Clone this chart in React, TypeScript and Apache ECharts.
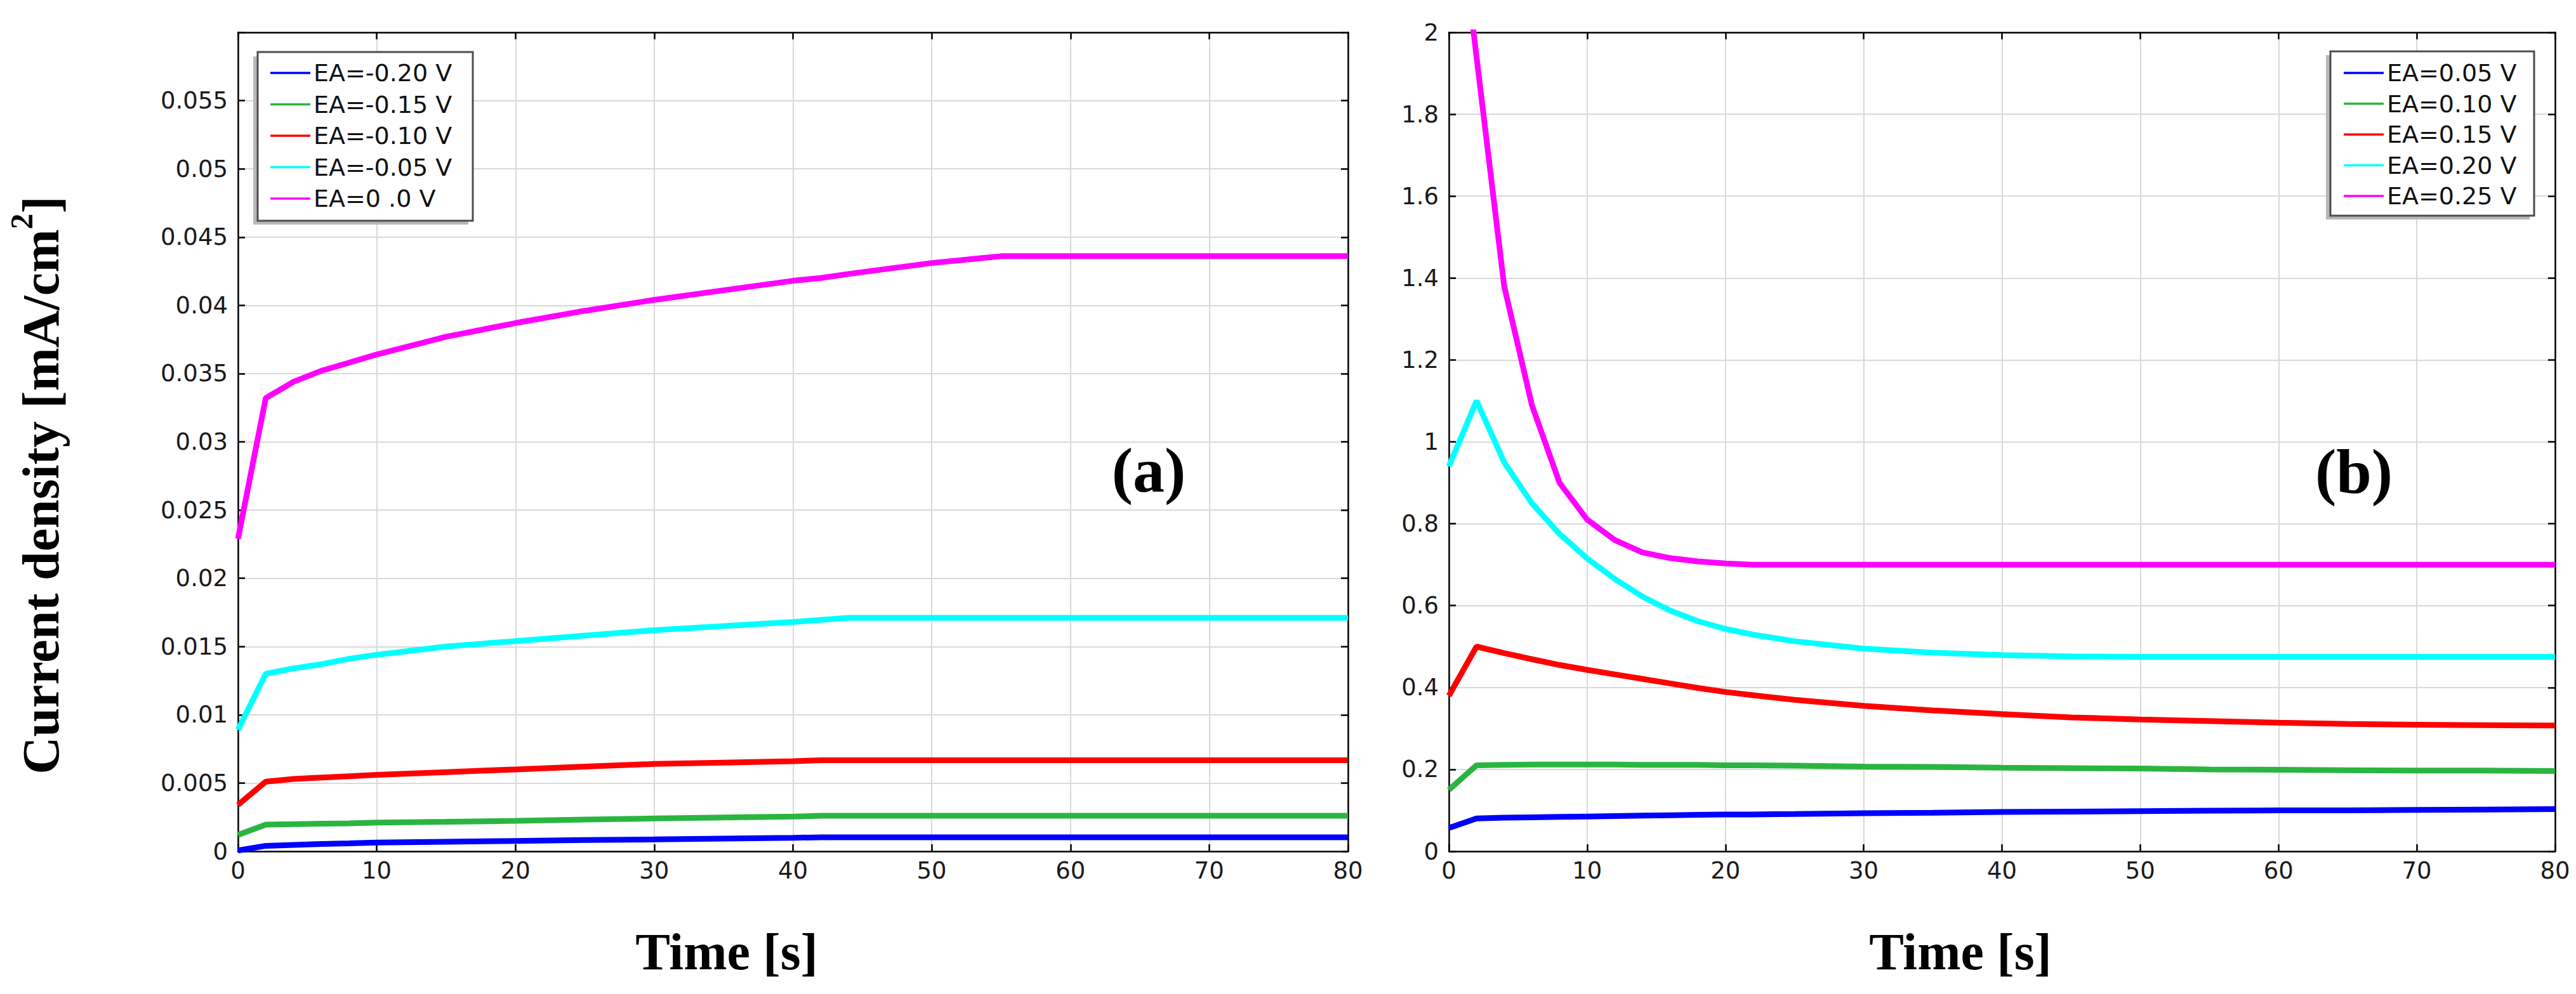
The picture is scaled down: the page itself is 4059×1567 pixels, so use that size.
import React, { useEffect, useRef } from "react";
import * as echarts from "echarts";

// ---------- data: panel (a) ----------
const TIME_A = [0, 2, 4, 6, 8, 10, 15, 20, 25, 30, 35, 40, 42, 44, 50, 55, 60, 70, 80];
const A_M020 = [0.00006, 0.0004, 0.00047, 0.00053, 0.00058, 0.00064, 0.0007, 0.00076, 0.00082, 0.00087, 0.00093, 0.00099, 0.00102, 0.00102, 0.00102, 0.00102, 0.00102, 0.00102, 0.00102];
const A_M015 = [0.0012, 0.00195, 0.00199, 0.00202, 0.00205, 0.0021, 0.00216, 0.00223, 0.00232, 0.0024, 0.00247, 0.00254, 0.0026, 0.0026, 0.0026, 0.0026, 0.0026, 0.0026, 0.0026];
const A_M010 = [0.0034, 0.0051, 0.0053, 0.0054, 0.0055, 0.0056, 0.0058, 0.006, 0.0062, 0.0064, 0.0065, 0.0066, 0.00667, 0.00667, 0.00667, 0.00667, 0.00667, 0.00667, 0.00667];
const A_M005 = [0.0089, 0.013, 0.0134, 0.0137, 0.0141, 0.0144, 0.015, 0.0154, 0.0158, 0.0162, 0.0165, 0.0168, 0.01695, 0.0171, 0.0171, 0.0171, 0.0171, 0.0171, 0.0171];
const A_000 = [0.0229, 0.0332, 0.0344, 0.0352, 0.0358, 0.0364, 0.0377, 0.0387, 0.0396, 0.0404, 0.0411, 0.0418, 0.042, 0.0423, 0.0431, 0.0436, 0.0436, 0.0436, 0.0436];

// ---------- data: panel (b) ----------
const TIME_B = [0, 2, 4, 6, 8, 10, 12, 14, 16, 18, 20, 22, 25, 30, 35, 40, 45, 50, 55, 60, 65, 70, 75, 80];
const B_005 = [0.057, 0.08, 0.082, 0.083, 0.084, 0.085, 0.086, 0.087, 0.088, 0.089, 0.09, 0.09, 0.091, 0.093, 0.094, 0.096, 0.097, 0.098, 0.099, 0.1, 0.1, 0.101, 0.102, 0.103];
const B_010 = [0.15, 0.21, 0.211, 0.212, 0.212, 0.212, 0.212, 0.211, 0.211, 0.211, 0.21, 0.21, 0.209, 0.207, 0.206, 0.204, 0.203, 0.202, 0.2, 0.199, 0.198, 0.197, 0.197, 0.196];
const B_015 = [0.38, 0.5, 0.484, 0.469, 0.455, 0.443, 0.432, 0.421, 0.41, 0.399, 0.389, 0.381, 0.37, 0.355, 0.344, 0.335, 0.327, 0.322, 0.318, 0.314, 0.311, 0.309, 0.308, 0.307];
const B_020 = [0.94, 1.1, 0.95, 0.85, 0.775, 0.715, 0.665, 0.622, 0.588, 0.562, 0.543, 0.529, 0.513, 0.495, 0.485, 0.479, 0.476, 0.475, 0.475, 0.475, 0.475, 0.475, 0.475, 0.475];
const B_025 = [2.5, 1.94, 1.38, 1.09, 0.9, 0.81, 0.76, 0.73, 0.716, 0.708, 0.703, 0.7, 0.7, 0.7, 0.7, 0.7, 0.7, 0.7, 0.7, 0.7, 0.7, 0.7, 0.7, 0.7];

const NAMES_A = ["EA=-0.20 V", "EA=-0.15 V", "EA=-0.10 V", "EA=-0.05 V", "EA=0 .0 V"];
const NAMES_B = ["EA=0.05 V", "EA=0.10 V", "EA=0.15 V", "EA=0.20 V", "EA=0.25 V"];
const VALUES_A = [A_M020, A_M015, A_M010, A_M005, A_000];
const VALUES_B = [B_005, B_010, B_015, B_020, B_025];
const COLORS = ["#0000ff", "#2ab540", "#ff0000", "#00ffff", "#ff00ff"];

// axis ranges / ticks
const X_MIN = 0;
const X_MAX = 80;
const X_STEP = 10;
const YA_MAX = 0.06;
const YA_STEP = 0.005;
const YB_MAX = 2;
const YB_STEP = 0.2;

const X_TITLE = "Time [s]";
const PANEL_A = "(a)";
const PANEL_B = "(b)";

const TICK_FONT = "DejaVu Sans";
const SERIF = "Liberation Serif";

function axisBase(extra: any) {
  return {
    type: "value",
    axisLine: { show: true, onZero: false, lineStyle: { color: "#000", width: 2.5 } },
    axisTick: { show: true, inside: true, length: 11, lineStyle: { color: "#000", width: 2.5 } },
    ...extra,
  };
}

export default function App() {
  const ref = useRef<HTMLDivElement>(null);

  useEffect(() => {
    if (!ref.current) return;
    const chart = echarts.init(ref.current, undefined, { renderer: "svg" });

    const labelStyle = { fontFamily: TICK_FONT, fontSize: 37, color: "#1a1a1a" };
    const split = { show: true, lineStyle: { color: "#d9d9d9", width: 2 } };

    const xAxes: any[] = [];
    const yAxes: any[] = [];
    [0, 1].forEach((g) => {
      xAxes.push(
        axisBase({
          gridIndex: g,
          position: "bottom",
          min: X_MIN,
          max: X_MAX,
          interval: X_STEP,
          axisLabel: { ...labelStyle, margin: 12 },
          splitLine: split,
        })
      );
      xAxes.push(
        axisBase({
          gridIndex: g,
          position: "top",
          min: X_MIN,
          max: X_MAX,
          interval: X_STEP,
          axisLabel: { show: false },
          splitLine: { show: false },
        })
      );
      const yMax = g === 0 ? YA_MAX : YB_MAX;
      const yStep = g === 0 ? YA_STEP : YB_STEP;
      yAxes.push(
        axisBase({
          gridIndex: g,
          position: "left",
          min: 0,
          max: yMax,
          interval: yStep,
          axisLabel: {
            ...labelStyle,
            margin: 16,
            formatter: (v: number) =>
              g === 0 && v > YA_MAX - YA_STEP / 2 ? "" : String(parseFloat(v.toFixed(4))),
          },
          splitLine: split,
        })
      );
      yAxes.push(
        axisBase({
          gridIndex: g,
          position: "right",
          min: 0,
          max: yMax,
          interval: yStep,
          axisLabel: { show: false },
          splitLine: { show: false },
        })
      );
    });

    const series: any[] = [];
    NAMES_A.forEach((name, i) => {
      series.push({
        type: "line",
        name,
        xAxisIndex: 0,
        yAxisIndex: 0,
        symbol: "none",
        showSymbol: false,
        clip: true,
        lineStyle: { color: COLORS[i], width: 9 },
        itemStyle: { color: COLORS[i] },
        data: TIME_A.map((t, k) => [t, VALUES_A[i][k]]),
      });
    });
    NAMES_B.forEach((name, i) => {
      series.push({
        type: "line",
        name,
        xAxisIndex: 2,
        yAxisIndex: 2,
        symbol: "none",
        showSymbol: false,
        clip: true,
        lineStyle: { color: COLORS[i], width: 9 },
        itemStyle: { color: COLORS[i] },
        data: TIME_B.map((t, k) => [t, VALUES_B[i][k]]),
      });
    });

    const legendBase = {
      orient: "vertical",
      icon: "rect",
      itemWidth: 63,
      itemHeight: 3.5,
      itemGap: 11,
      padding: 0,
      selectedMode: false,
      textStyle: { fontFamily: TICK_FONT, fontSize: 38, color: "#111", padding: [0, 0, 0, 0] },
      z: 12,
    };

    const option: any = {
      animation: false,
      backgroundColor: "#ffffff",
      grid: [
        { left: 375, top: 51, width: 1749, height: 1291 },
        { left: 2283, top: 51, width: 1743, height: 1291 },
      ],
      xAxis: xAxes,
      yAxis: yAxes,
      legend: [
        { ...legendBase, data: NAMES_A, left: 426, top: 96, itemGap: 11.5 },
        { ...legendBase, data: NAMES_B, left: 3693, top: 96, itemGap: 10.5, textStyle: { ...legendBase.textStyle } },
      ],
      graphic: [
        // legend (a) shadow + frame
        { type: "rect", z: 8, shape: { x: 399, y: 89, width: 339, height: 265 }, style: { fill: "#b8b8b8" } },
        { type: "rect", z: 9, shape: { x: 406, y: 82, width: 339, height: 266 }, style: { fill: "#fff", stroke: "#4d4d4d", lineWidth: 3 } },
        // legend (b) shadow + frame
        { type: "rect", z: 8, shape: { x: 3665, y: 87, width: 321, height: 259 }, style: { fill: "#b8b8b8" } },
        { type: "rect", z: 9, shape: { x: 3672, y: 81, width: 321, height: 259 }, style: { fill: "#fff", stroke: "#4d4d4d", lineWidth: 3 } },
        {
          type: "text",
          z: 20,
          x: 64,
          y: 765,
          rotation: Math.PI / 2,
          style: {
            text: "{m|Current density [mA/cm}{s|2}{m|]}",
            align: "center",
            verticalAlign: "middle",
            fill: "#000",
            rich: {
              m: { fontFamily: SERIF, fontWeight: "bold", fontSize: 82, lineHeight: 110, fill: "#000" },
              s: { fontFamily: SERIF, fontWeight: "bold", fontSize: 50, lineHeight: 50, verticalAlign: "top", fill: "#000" },
            },
          },
        },
        {
          type: "text",
          z: 20,
          x: 1145,
          y: 1500,
          style: { text: X_TITLE, fontFamily: SERIF, fontWeight: "bold", fontSize: 82, fill: "#000", align: "center", verticalAlign: "middle" },
        },
        {
          type: "text",
          z: 20,
          x: 3089,
          y: 1500,
          style: { text: X_TITLE, fontFamily: SERIF, fontWeight: "bold", fontSize: 82, fill: "#000", align: "center", verticalAlign: "middle" },
        },
        {
          type: "text",
          z: 20,
          x: 1810,
          y: 741,
          style: { text: PANEL_A, fontFamily: SERIF, fontWeight: "bold", fontSize: 100, fill: "#000", align: "center", verticalAlign: "middle" },
        },
        {
          type: "text",
          z: 20,
          x: 3709,
          y: 743,
          style: { text: PANEL_B, fontFamily: SERIF, fontWeight: "bold", fontSize: 100, fill: "#000", align: "center", verticalAlign: "middle" },
        },
      ],
      series,
    };

    chart.setOption(option);
    return () => chart.dispose();
  }, []);

  return (
    <div
      ref={ref}
      style={{ position: "fixed", left: 0, top: 0, width: 4059, height: 1567, background: "#fff" }}
    />
  );
}
